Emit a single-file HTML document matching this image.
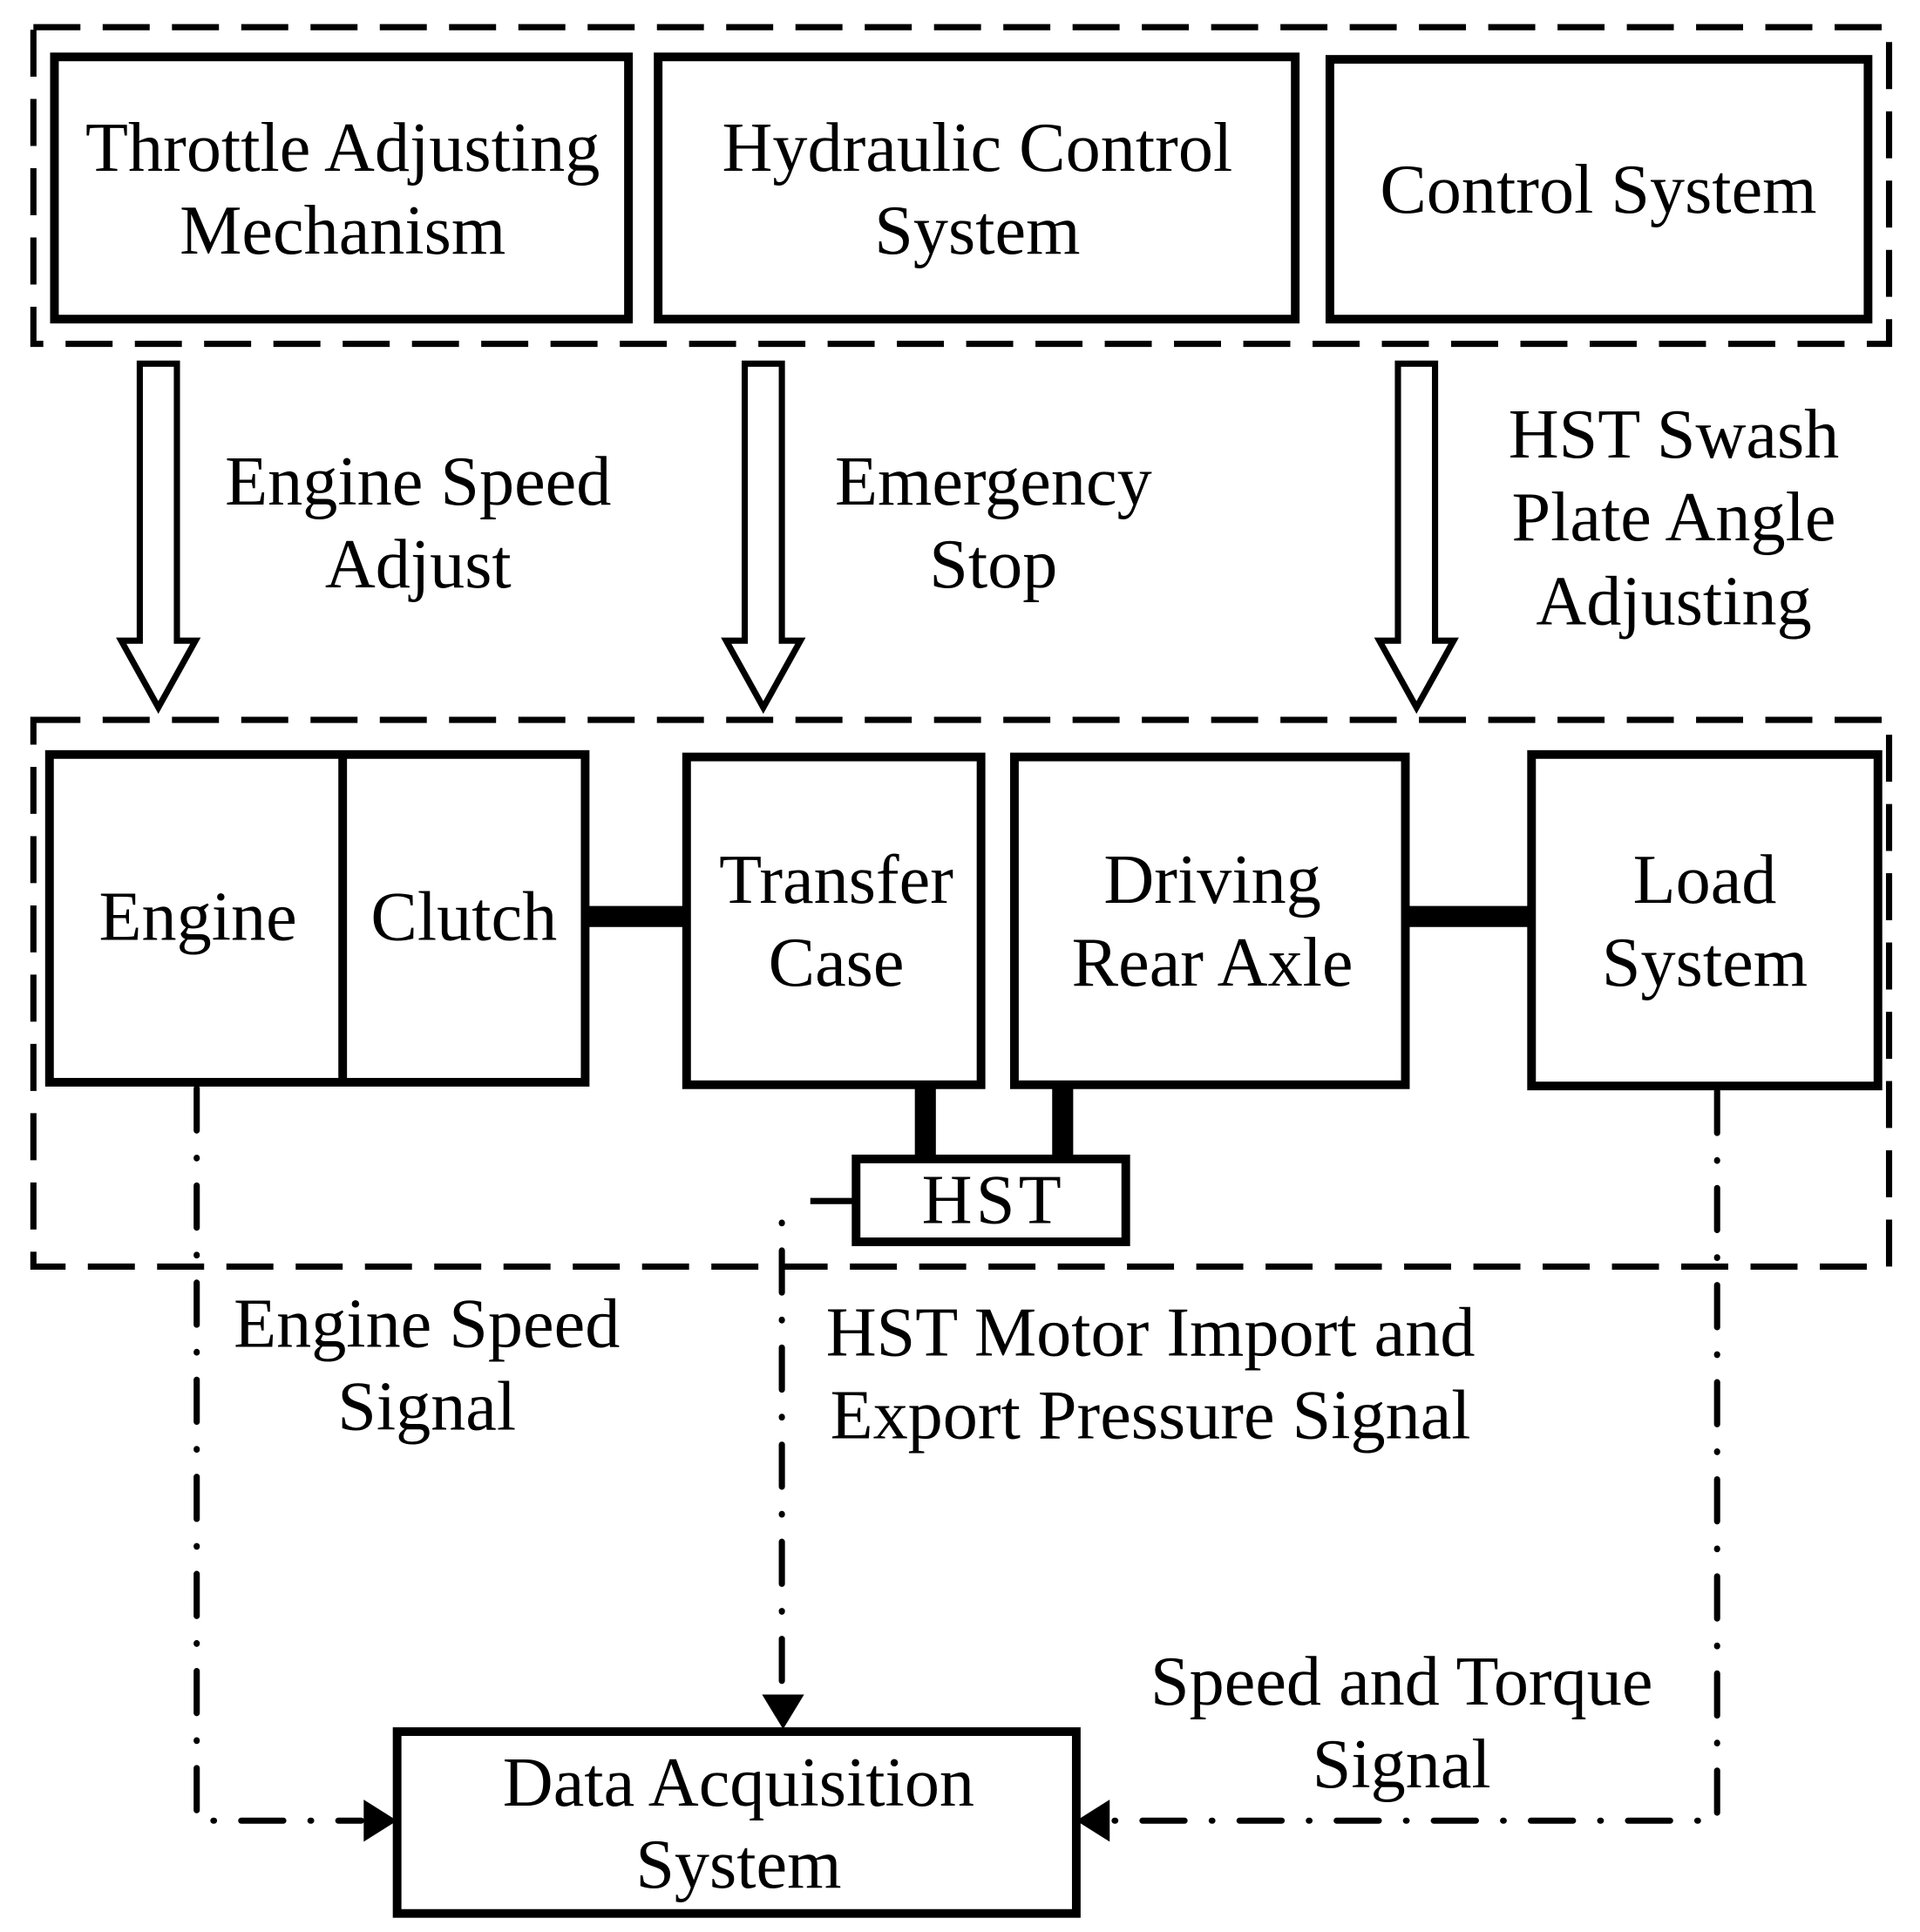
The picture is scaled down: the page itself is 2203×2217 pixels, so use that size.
<!DOCTYPE html>
<html><head><meta charset="utf-8"><style>html,body{margin:0;padding:0;background:#fff}svg{display:block}</style></head>
<body>
<svg width="2203" height="2217" viewBox="0 0 1552 1562" preserveAspectRatio="none" xmlns="http://www.w3.org/2000/svg">
<rect width="1552" height="1562" fill="#fff"/>
<g fill="none" stroke="#000">
<rect x="27" y="22" width="1500" height="256" stroke-width="5" stroke-dasharray="38 18"/>
<rect x="27" y="582" width="1500" height="442" stroke-width="5" stroke-dasharray="38 18"/>
<g stroke-width="7">
<rect x="44" y="46" width="464" height="212"/>
<rect x="532" y="46" width="515" height="212"/>
<rect x="1075" y="48" width="435" height="210"/>
<rect x="40" y="610" width="433" height="265"/>
<line x1="277" y1="610" x2="277" y2="875"/>
<rect x="555" y="612" width="238" height="265"/>
<rect x="820" y="612" width="316" height="265"/>
<rect x="1238" y="610" width="280" height="268"/>
<rect x="692" y="937" width="218" height="67"/>
<rect x="321" y="1400" width="549" height="147"/>
</g>
<g stroke-width="17">
<line x1="473" y1="741" x2="555" y2="741"/>
<line x1="1136" y1="741" x2="1238" y2="741"/>
<line x1="748" y1="877" x2="748" y2="937"/>
<line x1="859" y1="877" x2="859" y2="937"/>
</g>
<line x1="655" y1="971" x2="692" y2="971" stroke-width="5"/>
<g stroke-width="5" stroke-linecap="round" stroke-dasharray="34 22 0.5 22">
<path d="M159 880 V1472 H292"/>
<path d="M1388 882 V1472 H898"/>
<path d="M632 971 V1372" stroke-dashoffset="-40"/>
</g>
<g stroke-width="5" fill="#fff">
<path d="M113 294 H143 V518 H158 L128 572 L98 518 H113 Z"/>
<path d="M602 294 H632 V518 H647 L617 572 L587 518 H602 Z"/>
<path d="M1130 294 H1160 V518 H1175 L1145 572 L1115 518 H1130 Z"/>
</g>
</g>
<g fill="#000">
<path d="M321 1472 L294 1455 L294 1489 Z"/>
<path d="M870 1472 L897 1455 L897 1489 Z"/>
<path d="M633 1398 L616 1370 L650 1370 Z"/>
</g>
<g font-family="Liberation Serif, serif" font-size="56.5" text-anchor="middle" fill="#000">
<text x="277" y="138">Throttle Adjusting</text>
<text x="277" y="205">Mechanism</text>
<text x="790" y="138">Hydraulic Control</text>
<text x="790" y="205">System</text>
<text x="1292" y="172">Control System</text>
<text x="338" y="408">Engine Speed</text>
<text x="338" y="475">Adjust</text>
<text x="803" y="408">Emergency</text>
<text x="803" y="475">Stop</text>
<text x="1353" y="370">HST Swash</text>
<text x="1353" y="437">Plate Angle</text>
<text x="1353" y="505">Adjusting</text>
<text x="160" y="760">Engine</text>
<text x="375" y="760">Clutch</text>
<text x="676" y="730">Transfer</text>
<text x="676" y="797">Case</text>
<text x="980" y="730">Driving</text>
<text x="980" y="797">Rear Axle</text>
<text x="1378" y="730">Load</text>
<text x="1378" y="797">System</text>
<text x="803" y="989" letter-spacing="3">HST</text>
<text x="345" y="1089">Engine Speed</text>
<text x="345" y="1156">Signal</text>
<text x="930" y="1096">HST Motor Import and</text>
<text x="930" y="1163">Export Pressure Signal</text>
<text x="1133" y="1378">Speed and Torque</text>
<text x="1133" y="1445">Signal</text>
<text x="597" y="1460">Data Acquisition</text>
<text x="597" y="1526">System</text>
</g>
</svg>
</body></html>
